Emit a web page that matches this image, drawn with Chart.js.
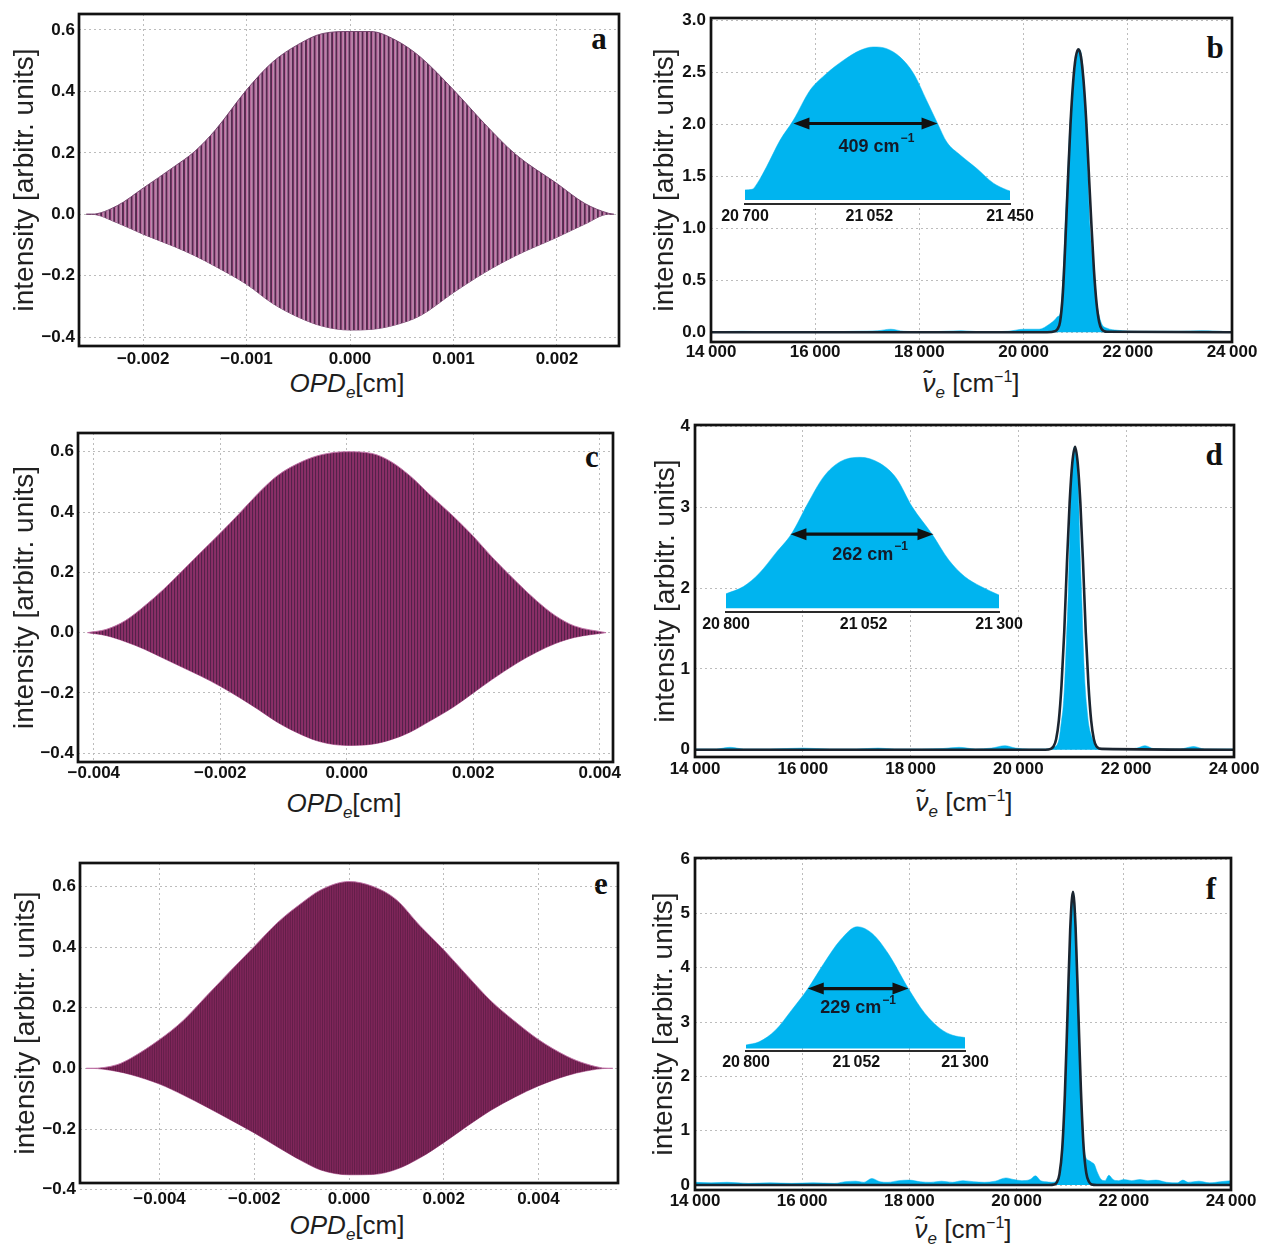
<!DOCTYPE html>
<html><head><meta charset="utf-8">
<script src="https://cdn.jsdelivr.net/npm/chart.js@4.4.1/dist/chart.umd.min.js"></script>
<style>
html,body{margin:0;padding:0;background:#fff}
#wrap{position:relative;width:1262px;height:1246px;overflow:hidden;background:#fff;font-family:"Liberation Sans",Arial,sans-serif}
canvas{position:absolute}
.xt{position:absolute;font-size:26px;color:#1e1e1e;transform:translate(-50%,-50%);white-space:nowrap;line-height:1}
.xt sub{font-size:17px;vertical-align:-6px;line-height:0}
.xt sup{font-size:16px;vertical-align:10px;line-height:0}
.lbl{position:absolute;font-family:"Liberation Serif","Times New Roman",serif;font-weight:bold;font-size:31px;color:#111;transform:translate(-50%,-50%);line-height:1}
</style></head><body><div id="wrap">
<div class="xt" style="left:347px;top:383px"><i>OPD<sub>e</sub></i>[cm]</div>
<div class="xt" style="left:971px;top:383px"><i>ν&#771;<sub>e</sub></i> [cm<sup>−1</sup>]</div>
<div class="xt" style="left:344px;top:803px"><i>OPD<sub>e</sub></i>[cm]</div>
<div class="xt" style="left:964px;top:802px"><i>ν&#771;<sub>e</sub></i> [cm<sup>−1</sup>]</div>
<div class="xt" style="left:347px;top:1225px"><i>OPD<sub>e</sub></i>[cm]</div>
<div class="xt" style="left:963px;top:1229px"><i>ν&#771;<sub>e</sub></i> [cm<sup>−1</sup>]</div>
<div class="lbl" style="left:599px;top:38px">a</div>
<div class="lbl" style="left:1215px;top:47px">b</div>
<div class="lbl" style="left:592px;top:456px">c</div>
<div class="lbl" style="left:1214px;top:454px">d</div>
<div class="lbl" style="left:601px;top:883px">e</div>
<div class="lbl" style="left:1211px;top:888px">f</div>
</div>
<script>
// ---------------- DATA ----------------
// interferogram envelopes (OPD in cm, intensity)
const aX     = [-0.00255,-0.0025,-0.00225,-0.002,-0.0017,-0.0015,-0.0013,-0.001,-0.00075,-0.0005,-0.00027,0,0.0002,0.00044,0.00068,0.001,0.0013,0.0016,0.002,0.00227,0.0025,0.00255];
const aUpper = [0,0,0.028,0.085,0.155,0.205,0.275,0.405,0.495,0.553,0.588,0.595,0.595,0.567,0.512,0.405,0.295,0.195,0.1,0.035,0.003,0];
const aLower = [0,0,-0.028,-0.065,-0.105,-0.135,-0.17,-0.228,-0.29,-0.335,-0.364,-0.377,-0.375,-0.36,-0.33,-0.255,-0.19,-0.135,-0.075,-0.032,0,0];

const cX     = [-0.0041,-0.0038,-0.0035,-0.0032,-0.0029,-0.0026,-0.0023,-0.002,-0.0017,-0.0014,-0.0011,-0.0007,-0.0004,0,0.0004,0.0007,0.001,0.0013,0.0017,0.002,0.0023,0.0027,0.003,0.0033,0.0036,0.0041];
const cUpper = [0,0.011,0.04,0.088,0.143,0.205,0.268,0.33,0.395,0.462,0.52,0.568,0.59,0.6,0.594,0.567,0.52,0.46,0.383,0.32,0.25,0.165,0.106,0.056,0.022,0];
const cLower = [0,-0.01,-0.03,-0.055,-0.085,-0.115,-0.145,-0.178,-0.215,-0.255,-0.297,-0.34,-0.363,-0.374,-0.37,-0.355,-0.33,-0.295,-0.245,-0.2,-0.155,-0.1,-0.065,-0.036,-0.016,0];

const eX     = [-0.00555,-0.00545,-0.0049,-0.0046,-0.004,-0.0035,-0.003,-0.0025,-0.002,-0.0015,-0.001,-0.0006,0,0.0005,0.001,0.0015,0.002,0.0025,0.003,0.0035,0.004,0.0046,0.005,0.00547,0.00557];
const eUpper = [0,0,0.012,0.034,0.095,0.158,0.24,0.322,0.402,0.482,0.545,0.588,0.616,0.6,0.556,0.47,0.391,0.305,0.222,0.155,0.095,0.04,0.015,0,0];
const eLower = [0,0,-0.01,-0.021,-0.052,-0.088,-0.128,-0.17,-0.213,-0.26,-0.305,-0.335,-0.351,-0.35,-0.333,-0.295,-0.245,-0.19,-0.138,-0.095,-0.058,-0.024,-0.009,0,0];

// spectra (wavenumber cm-1, intensity)
const bCyanX = [14000,14600,15200,16000,16800,17200,17450,17700,18200,18800,19200,19700,20000,20300,20500,20600,20650,20700,20761,20799,20837,20884,20931,20978,21026,21063,21101,21139,21177,21214,21245,21271,21309,21356,21403,21441,21500,21600,21800,22200,22600,23000,23400,24000];
const bCyanY = [0.005,0.01,0.005,0.005,0.01,0.015,0.03,0.01,0.005,0.015,0.005,0.01,0.03,0.03,0.08,0.12,0.15,0.18,0.59,1.06,1.42,1.95,2.25,2.48,2.66,2.72,2.69,2.54,2.25,1.77,1.36,1.03,0.80,0.56,0.30,0.18,0.08,0.04,0.02,0.01,0.01,0.01,0.015,0.005];
const bFitX  = [14000,20450,20600,20650,20700,20750,20800,20850,20900,20950,21000,21052,21100,21150,21200,21250,21300,21350,21400,21450,21500,21600,24000];
const bFitY  = [0,0,0.01,0.03,0.1,0.35,0.85,1.45,2.0,2.4,2.64,2.72,2.65,2.42,2.05,1.55,1.05,0.6,0.28,0.1,0.03,0.005,0];
const bInsetX = [20700,20720,20735,20761,20799,20837,20884,20931,20978,21026,21063,21101,21139,21177,21214,21245,21271,21309,21356,21403,21441,21455];
const bInsetY = [0.18,0.19,0.3,0.59,1.06,1.42,1.95,2.25,2.48,2.66,2.72,2.69,2.54,2.25,1.77,1.36,1.03,0.80,0.56,0.30,0.18,0.15];
const bFwhm = [20837,21245,1.36];
const bFwhmText = ['409 cm','−1'];
const bFwhmTextAt = [21072,0.95];

const dCyanX = [14000,14400,14650,14900,15400,16000,16500,17000,17400,17700,18200,18600,18900,19200,19500,19750,19950,20200,20500,20650,20750,20800,20832,20861,20891,20920,20950,20979,21009,21045,21082,21112,21141,21177,21208,21237,21267,21300,21350,21420,21500,21700,22000,22200,22350,22500,22800,23000,23250,23450,23700,24000];
const dCyanY = [0.01,0.01,0.03,0.01,0.01,0.02,0.01,0.01,0.02,0.01,0.01,0.015,0.03,0.01,0.02,0.05,0.02,0.01,0.01,0.03,0.12,0.36,0.54,0.87,1.37,1.85,2.61,3.27,3.64,3.75,3.6,3.23,2.52,1.85,1.2,0.79,0.54,0.33,0.18,0.07,0.02,0.01,0.01,0.02,0.05,0.015,0.01,0.01,0.04,0.01,0.01,0.01];
const dFitX  = [14000,20500,20600,20650,20700,20750,20800,20850,20900,20950,21000,21052,21100,21150,21200,21250,21300,21350,21400,21450,21550,24000];
const dFitY  = [0,0,0.01,0.04,0.13,0.36,0.8,1.45,2.3,3.05,3.55,3.75,3.55,3.05,2.3,1.45,0.8,0.36,0.13,0.04,0.01,0];
const dInsetX = [20800,20832,20861,20891,20920,20950,20979,21009,21045,21082,21112,21141,21177,21208,21237,21267,21300];
const dInsetY = [0.36,0.54,0.87,1.37,1.85,2.61,3.27,3.64,3.75,3.6,3.23,2.52,1.85,1.2,0.79,0.54,0.33];
const dFwhm = [20918,21180,1.84];
const dFwhmText = ['262 cm','−1'];
const dFwhmTextAt = [21064,1.32];

const fCyanX = [14000,14300,14600,15000,15400,15800,16200,16600,16800,17000,17150,17300,17450,17600,17800,18000,18200,18400,18600,18800,19000,19200,19400,19600,19800,19950,20100,20250,20350,20450,20550,20650,20750,20800,20830,20867,20904,20941,20978,21015,21054,21088,21125,21171,21208,21245,21272,21300,21350,21400,21450,21500,21580,21650,21720,21800,21900,22000,22150,22300,22450,22600,22800,23000,23100,23200,23400,23600,23800,24000];
const fCyanY = [0.05,0.04,0.05,0.03,0.04,0.03,0.04,0.03,0.06,0.07,0.05,0.12,0.06,0.05,0.08,0.09,0.06,0.05,0.07,0.05,0.08,0.06,0.05,0.07,0.13,0.1,0.08,0.1,0.17,0.08,0.06,0.05,0.08,0.16,0.3,0.81,1.7,2.65,3.78,4.8,5.4,5.1,4.2,2.65,1.57,0.86,0.59,0.49,0.45,0.42,0.38,0.25,0.1,0.08,0.18,0.1,0.08,0.1,0.08,0.1,0.08,0.09,0.05,0.04,0.09,0.05,0.07,0.04,0.06,0.08];
const fFitX  = [14000,20600,20700,20750,20800,20850,20900,20950,21000,21052,21100,21150,21200,21250,21300,21350,21400,21500,24000];
const fFitY  = [0,0,0.01,0.05,0.2,0.65,1.65,3.15,4.7,5.4,4.75,3.25,1.75,0.7,0.22,0.06,0.01,0,0];
const fInsetX = [20800,20830,20867,20904,20941,20978,21015,21054,21088,21125,21171,21208,21245,21272,21300];
const fInsetY = [0.16,0.3,0.81,1.7,2.65,3.78,4.8,5.4,5.1,4.2,2.65,1.57,0.86,0.59,0.49];
const fFwhm = [20941,21171,2.66];
const fFwhmText = ['229 cm','−1'];
const fFwhmTextAt = [21056,1.79];

// ticks
const aXTicks = [-0.002,-0.001,0,0.001,0.002];
const aXLabels = ['−0.002','−0.001','0.000','0.001','0.002'];
const cXTicks = [-0.004,-0.002,0,0.002,0.004];
const cXLabels = ['−0.004','−0.002','0.000','0.002','0.004'];
const eXTicks = [-0.004,-0.002,0,0.002,0.004];
const eXLabels = ['−0.004','−0.002','0.000','0.002','0.004'];
const ifgYTicks = [-0.4,-0.2,0,0.2,0.4,0.6];
const ifgYLabels = ['−0.4','−0.2','0.0','0.2','0.4','0.6'];
const specXTicks = [14000,16000,18000,20000,22000,24000];
const specXLabels = ['14\u2009000','16\u2009000','18\u2009000','20\u2009000','22\u2009000','24\u2009000'];
const bYTicks = [0,0.5,1,1.5,2,2.5,3];
const bYLabels = ['0.0','0.5','1.0','1.5','2.0','2.5','3.0'];
const dYTicks = [0,1,2,3,4];
const dYLabels = ['0','1','2','3','4'];
const fYTicks = [0,1,2,3,4,5,6];
const fYLabels = ['0','1','2','3','4','5','6'];
const bInsetTicks = [20700,21052,21450];
const bInsetLabels = ['20\u2009700','21\u2009052','21\u2009450'];
const dfInsetTicks = [20800,21052,21300];
const dfInsetLabels = ['20\u2009800','21\u2009052','21\u2009300'];

// ---------------- RENDER ----------------
const FONT = '"Liberation Sans", Arial, sans-serif';
Chart.defaults.font.family = FONT;
Chart.defaults.color = '#111';
const wrap = document.getElementById('wrap');
const CYAN = '#00b4ef', DARK = '#1b2530';

function xy(xs, ys){ return xs.map((x,i)=>({x:x, y:ys[i]})); }

const framePlugin = {id:'frame', afterDraw(chart){
  const a = chart.chartArea, c = chart.ctx;
  c.save(); c.lineWidth = 2.7; c.strokeStyle = '#121212';
  c.strokeRect(a.left, a.top, a.right-a.left, a.bottom-a.top); c.restore();
}};

// vertical fringe texture (style only): period in px, colours
function stripes(ctx, p, st){
  let best = null;
  for (let n=1;n<=16;n++){ const W=Math.round(p*n); if (W<2) continue; const e=Math.abs(W/n-p); if(!best||e<best.e-1e-9) best={n:n,W:W,e:e}; }
  const cv = document.createElement('canvas'); cv.width = best.W; cv.height = 8;
  const g = cv.getContext('2d'); g.fillStyle = st.bg; g.fillRect(0,0,best.W,8);
  const step = best.W/best.n;
  for (let k=0;k<best.n;k++) for (const s of st.lines){ g.fillStyle=s[0]; g.fillRect(k*step+s[1]*step,0,s[2]*step,8); }
  return ctx.createPattern(cv,'repeat');
}
function fringeFill(st){
  let cache = null;
  return (ctx)=>{
    const ch = ctx.chart;
    if (!ch || !ch.ctx) return st.bg;
    if (!cache) cache = stripes(ch.ctx, st.period, st);
    return cache;
  };
}

function ifgDatasets(X, U, L, st, edge){
  return [
    {data: xy(X,U), fill:'+1', backgroundColor: fringeFill(st), borderColor: edge, borderWidth: 0.9, pointRadius:0, cubicInterpolationMode:'monotone'},
    {data: xy(X,L), fill:false, borderColor: edge, borderWidth: 0.9, pointRadius:0, cubicInterpolationMode:'monotone'}
  ];
}
function specDatasets(cx, cy, fx, fy){
  return [
    {data: xy(fx,fy), fill:false, borderColor: DARK, borderWidth: 2.6, pointRadius:0, cubicInterpolationMode:'monotone', order:0},
    {data: xy(cx,cy), fill:'origin', backgroundColor: CYAN, borderColor: CYAN, borderWidth: 0.5, pointRadius:0, cubicInterpolationMode:'monotone', order:1}
  ];
}

function mainPanel(o){
  const cv = document.createElement('canvas');
  const left = o.cl, top = o.area.t - 24, right = o.cr, bottom = o.area.b + 30;
  cv.width = right-left; cv.height = bottom-top;
  cv.style.left = left+'px'; cv.style.top = top+'px';
  wrap.appendChild(cv);
  const tickFont = {size:17, weight:'bold', family:FONT};
  return new Chart(cv, {
    type:'line',
    data:{datasets:o.datasets},
    options:{
      responsive:false, animation:false, devicePixelRatio:1, events:[],
      layout:{padding:{left:0, top:o.area.t-top, right:right-o.area.r, bottom:0}},
      plugins:{legend:{display:false}, tooltip:{enabled:false}},
      scales:{
        x:{type:'linear', min:o.xMin, max:o.xMax,
           afterBuildTicks:s=>{ s.ticks = o.xTicks.map(v=>({value:v})); },
           afterFit:s=>{ s.height = bottom - o.area.b; },
           ticks:{autoSkip:false, maxRotation:0, padding:o.xPad, font:tickFont, color:'#111', callback:(v,i)=>o.xLabels[i]},
           grid:{color:'#bcbcbc', lineWidth:1, drawTicks:false},
           border:{display:false, dash:[2,3]}},
        y:{type:'linear', min:o.yMin, max:o.yMax,
           afterBuildTicks:s=>{ s.ticks = o.yTicks.map(v=>({value:v})); },
           afterFit:s=>{ s.width = o.area.l - left; },
           ticks:{autoSkip:false, padding:o.yPad, font:tickFont, color:'#111', callback:(v,i)=>o.yLabels[i]},
           grid:{color:'#bcbcbc', lineWidth:1, drawTicks:false},
           border:{display:false, dash:[2,3]},
           title:{display:true, text:'intensity [arbitr. units]', font:{size:28, family:FONT}, color:'#222', padding:{top:o.titleX-left-16.8, bottom:0}}}
      }
    },
    plugins:[framePlugin]
  });
}

function insetPanel(o){
  const cv = document.createElement('canvas');
  const left = o.l - 40, top = o.t, w = (o.r - o.l) + 80, h = (o.axisY - o.t) + 26;
  cv.width = w; cv.height = h; cv.style.left = left+'px'; cv.style.top = top+'px';
  wrap.appendChild(cv);
  const arrow = {id:'fwhm', afterDatasetsDraw(chart){
    const sx = chart.scales.x, sy = chart.scales.y, c = chart.ctx;
    const x1 = sx.getPixelForValue(o.fwhm[0]), x2 = sx.getPixelForValue(o.fwhm[1]), y = sy.getPixelForValue(o.fwhm[2]);
    const hl = 16, hw = 6;
    c.save(); c.strokeStyle = '#111'; c.fillStyle = '#111'; c.lineWidth = 3.2;
    c.beginPath(); c.moveTo(x1+hl-2,y); c.lineTo(x2-hl+2,y); c.stroke();
    c.beginPath(); c.moveTo(x1,y); c.lineTo(x1+hl,y-hw); c.lineTo(x1+hl,y+hw); c.closePath(); c.fill();
    c.beginPath(); c.moveTo(x2,y); c.lineTo(x2-hl,y-hw); c.lineTo(x2-hl,y+hw); c.closePath(); c.fill();
    const tx = sx.getPixelForValue(o.textAt[0]), ty = sy.getPixelForValue(o.textAt[1]);
    c.fillStyle = '#141a28'; c.textBaseline = 'middle'; c.textAlign = 'left';
    c.font = 'bold 18px '+FONT; const w1 = c.measureText(o.text[0]).width;
    c.font = 'bold 12px '+FONT; const w2 = c.measureText(o.text[1]).width;
    const s = tx - (w1+w2+1)/2;
    c.font = 'bold 18px '+FONT; c.fillText(o.text[0], s, ty);
    c.font = 'bold 12px '+FONT; c.fillText(o.text[1], s+w1+1, ty-8);
    c.restore();
  }};
  return new Chart(cv, {
    type:'line',
    data:{datasets:[{data:xy(o.X,o.Y), fill:'origin', backgroundColor:CYAN, borderColor:CYAN, borderWidth:0.5, pointRadius:0, cubicInterpolationMode:'monotone'}]},
    options:{
      responsive:false, animation:false, devicePixelRatio:1, events:[],
      layout:{padding:{left:40, right:40, top:0, bottom:0}},
      plugins:{legend:{display:false}, tooltip:{enabled:false}},
      scales:{
        x:{type:'linear', min:o.xMin, max:o.xMax,
           afterBuildTicks:s=>{ s.ticks = o.ticks.map(v=>({value:v})); },
           afterFit:s=>{ s.height = 26; },
           ticks:{autoSkip:false, maxRotation:0, padding:o.pad, font:{size:16, weight:'bold', family:FONT}, color:'#111', callback:(v,i)=>o.labels[i]},
           grid:{display:false, drawTicks:false},
           border:{display:true, color:'#2a2a2a', width:2}},
        y:{display:false, min:o.yMin, max:o.yMax}
      }
    },
    plugins:[arrow]
  });
}

// left column: interferograms
const aStyle = {period:4.35, bg:'#b98aad', lines:[['#55294f',0,0.45],['#c2649f',0.45,0.2]]};
const cStyle = {period:3.0, bg:'#8a2f67', lines:[['#55214a',0,0.35]]};
const eStyle = {period:2.3, bg:'#80265a', lines:[['#5c1d46',0,0.35]]};

mainPanel({cl:0, cr:649, area:{l:79,t:14,r:619,b:346}, xMin:-0.00262, xMax:0.0026, yMin:-0.429, yMax:0.652,
  xTicks:aXTicks, xLabels:aXLabels, yTicks:ifgYTicks, yLabels:ifgYLabels, xPad:3, yPad:4, titleX:25.5,
  datasets: ifgDatasets(aX, aUpper, aLower, aStyle, '#6e3a66')});
mainPanel({cl:0, cr:643, area:{l:78,t:433,r:613,b:762}, xMin:-0.00425, xMax:0.00421, yMin:-0.429, yMax:0.662,
  xTicks:cXTicks, xLabels:cXLabels, yTicks:ifgYTicks, yLabels:ifgYLabels, xPad:1, yPad:4, titleX:25,
  datasets: ifgDatasets(cX, cUpper, cLower, cStyle, '#c070a6')});
mainPanel({cl:0, cr:648, area:{l:80,t:863,r:618,b:1183}, xMin:-0.00568, xMax:0.00568, yMin:-0.378, yMax:0.677,
  xTicks:eXTicks, xLabels:eXLabels, yTicks:ifgYTicks, yLabels:ifgYLabels, xPad:6, yPad:4, titleX:26,
  datasets: ifgDatasets(eX, eUpper, eLower, eStyle, '#c070a6')});

// right column: spectra
mainPanel({cl:636, cr:1262, area:{l:711,t:18,r:1232,b:342}, xMin:14000, xMax:24000, yMin:-0.093, yMax:3.02,
  xTicks:specXTicks, xLabels:specXLabels, yTicks:bYTicks, yLabels:bYLabels, xPad:0, yPad:5, titleX:665,
  datasets: specDatasets(bCyanX, bCyanY, bFitX, bFitY)});
mainPanel({cl:636, cr:1262, area:{l:695,t:425,r:1234,b:757}, xMin:14000, xMax:24000, yMin:-0.09, yMax:4.02,
  xTicks:specXTicks, xLabels:specXLabels, yTicks:dYTicks, yLabels:dYLabels, xPad:2, yPad:5, titleX:666,
  datasets: specDatasets(dCyanX, dCyanY, dFitX, dFitY)});
mainPanel({cl:636, cr:1262, area:{l:695,t:858,r:1231,b:1190}, xMin:14000, xMax:24000, yMin:-0.092, yMax:6.02,
  xTicks:specXTicks, xLabels:specXLabels, yTicks:fYTicks, yLabels:fYLabels, xPad:1, yPad:5, titleX:664,
  datasets: specDatasets(fCyanX, fCyanY, fFitX, fFitY)});

// insets
insetPanel({l:745, r:1010, t:40, axisY:204, xMin:20700, xMax:21450, yMin:-0.071, yMax:2.844, pad:3,
  X:bInsetX, Y:bInsetY, ticks:bInsetTicks, labels:bInsetLabels, fwhm:bFwhm, text:bFwhmText, textAt:bFwhmTextAt});
insetPanel({l:726, r:999, t:445, axisY:612, xMin:20800, xMax:21300, yMin:-0.092, yMax:4.056, pad:3,
  X:dInsetX, Y:dInsetY, ticks:dfInsetTicks, labels:dfInsetLabels, fwhm:dFwhm, text:dFwhmText, textAt:dFwhmTextAt});
insetPanel({l:746, r:965, t:915, axisY:1051, xMin:20800, xMax:21300, yMin:-0.107, yMax:5.92, pad:2,
  X:fInsetX, Y:fInsetY, ticks:dfInsetTicks, labels:dfInsetLabels, fwhm:fFwhm, text:fFwhmText, textAt:fFwhmTextAt});
</script></body></html>
